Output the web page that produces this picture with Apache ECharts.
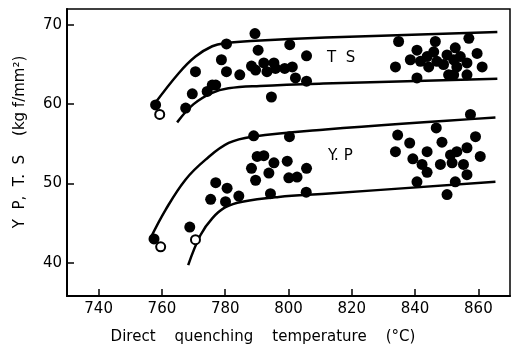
<!DOCTYPE html>
<html><head><meta charset="utf-8">
<script src="https://cdn.jsdelivr.net/npm/echarts@6/dist/echarts.min.js"></script>
<style>html,body{margin:0;padding:0;background:#fff}#c{width:513px;height:349px}</style>
</head><body><div id="c"></div>
<script>
const xTicks = [740, 760, 780, 800, 820, 840, 860];
const yTicks = [40, 50, 60, 70];

const tsFilled = [
  [758.0,59.9],[767.5,59.5],[789.4,68.9],[780.4,67.6],[790.4,66.8],[800.4,67.5],[805.7,66.1],
  [778.8,65.6],[770.6,64.1],[780.4,64.1],[784.6,63.7],[788.3,64.8],[789.6,64.3],[792.2,65.2],
  [795.4,65.2],[793.2,64.1],[795.9,64.5],[798.8,64.5],[801.2,64.7],[802.2,63.3],[805.7,62.9],
  [769.6,61.3],[775.9,62.4],[774.3,61.6],[777.0,62.4],[794.6,60.9],
  [834.8,67.9],[846.4,67.9],[857.0,68.3],[833.8,64.7],[840.6,66.8],[838.5,65.6],[841.7,65.4],
  [843.8,66.0],[844.3,64.7],[846.9,65.4],[840.6,63.3],[849.0,65.0],[850.1,66.2],[852.7,67.1],
  [852.2,65.6],[854.3,66.0],[853.2,64.7],[850.6,63.7],[852.2,63.7],[856.4,63.7],[859.6,66.4],
  [861.2,64.7],[856.4,65.2],[845.9,66.6]
];
const tsOpen = [[759.3,58.7]];

const ypFilled = [
  [757.5,43.0],[768.8,44.5],[777.0,50.1],[780.6,49.4],[775.4,48.0],[780.1,47.7],[784.3,48.4],
  [789.0,56.0],[800.3,55.9],[790.1,53.4],[792.2,53.5],[788.3,51.9],[789.6,50.4],[795.4,52.6],
  [793.8,51.3],[799.6,52.8],[805.7,51.9],[800.1,50.7],[802.7,50.8],[794.3,48.7],[805.6,48.9],
  [857.5,58.7],[846.7,57.0],[834.5,56.1],[833.8,54.0],[838.3,55.1],[843.8,54.0],[848.5,55.2],
  [839.3,53.1],[842.2,52.4],[843.8,51.4],[840.6,50.2],[848.0,52.4],[851.2,53.6],[853.2,54.0],
  [856.4,54.5],[859.1,55.9],[860.6,53.4],[855.3,52.4],[856.4,51.1],[852.7,50.2],[850.1,48.6],
  [851.7,52.6]
];
const ypOpen = [[759.6,42.0],[770.6,42.9]];

const tsUpper = [[757.8,60.1],[765.3,63.9],[770.6,66.0],[775.9,67.3],[780.1,67.7],[789.6,68.0],[811.7,68.4],[866,69.1]];
const tsLower = [[764.8,57.7],[770.0,60.0],[775.7,61.4],[781.0,62.0],[791.0,62.3],[811.0,62.6],[866,63.2]];
const ypUpper = [[756.4,43.1],[761.2,46.7],[767.5,50.5],[773.8,53.0],[781.1,55.1],[788.5,55.9],[811.7,56.8],[865.4,58.3]];
const ypLower = [[768.3,39.7],[772.2,43.5],[775.9,45.6],[780.1,47.0],[785.4,47.7],[796.9,48.3],[811.7,48.7],[865.4,50.2]];

const font = 'DejaVu Sans';
const chart = echarts.init(document.getElementById('c'), null, {renderer: 'canvas'});

function curve(d) {
  return {type: 'line', data: d, smooth: 0.4, showSymbol: false, symbol: 'none',
    lineStyle: {color: '#000', width: 2.5, opacity: 1}, z: 2, silent: true};
}
function pts(d, open) {
  return {type: 'scatter', data: d, symbol: 'circle', symbolSize: open ? 9 : 11,
    itemStyle: open ? {color: '#fff', borderColor: '#000', borderWidth: 2, opacity: 1} : {color: '#000', opacity: 1},
    z: 3, silent: true};
}

chart.setOption({
  animation: false,
  backgroundColor: '#fff',
  grid: {left: 67, top: 9, right: 3, bottom: 53, show: true, borderColor: '#000', borderWidth: 1.5},
  xAxis: {
    type: 'value', min: 730, max: 870,
    axisLine: {show: true, lineStyle: {color: '#000', width: 2}},
    axisTick: {show: true, inside: true, length: 7, lineStyle: {color: '#000', width: 1.5}, customValues: xTicks},
    axisLabel: {color: '#000', fontFamily: font, fontSize: 15, margin: 6, customValues: xTicks},
    splitLine: {show: false}
  },
  yAxis: {
    type: 'value', min: 35.8, max: 72,
    axisLine: {show: true, lineStyle: {color: '#000', width: 2}},
    axisTick: {show: true, inside: true, length: 7, lineStyle: {color: '#000', width: 1.5}, customValues: yTicks},
    axisLabel: {color: '#000', fontFamily: font, fontSize: 15, margin: 5, customValues: yTicks},
    splitLine: {show: false}
  },
  graphic: [
    {type: 'text', left: 327, top: 51, style: {text: 'T  S', font: '15px ' + font, fill: '#000'}},
    {type: 'text', left: 328, top: 149, style: {text: 'Y. P', font: '15px ' + font, fill: '#000'}},
    {type: 'text', x: 263, y: 337, style: {text: 'Direct    quenching    temperature    (°C)', font: '15px ' + font, fill: '#000', align: 'center', verticalAlign: 'middle'}},
    {type: 'text', x: 20, y: 142, rotation: Math.PI / 2, style: {text: 'Y  P,  T.  S    (kg f/mm²)', font: '15px ' + font, fill: '#000', align: 'center', verticalAlign: 'middle'}}
  ],
  series: [curve(tsUpper), curve(tsLower), curve(ypUpper), curve(ypLower),
    pts(tsFilled, false), pts(tsOpen, true), pts(ypFilled, false), pts(ypOpen, true)]
});
</script></body></html>
